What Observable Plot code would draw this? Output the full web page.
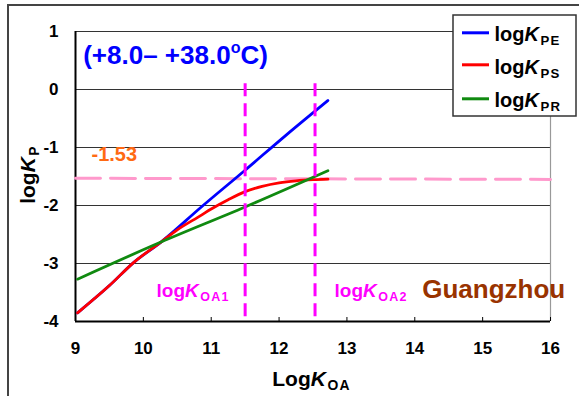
<!DOCTYPE html>
<html>
<head>
<meta charset="utf-8">
<script src="https://cdn.jsdelivr.net/npm/d3@7"></script>
<script src="https://cdn.jsdelivr.net/npm/@observablehq/plot@0.6"></script>
<style>
  html, body { margin: 0; padding: 0; background: #fff; }
  #wrap { position: relative; width: 579px; height: 396px; overflow: hidden; }
  #outer { position: absolute; left: 7px; top: 4px; width: 700px; height: 500px;
           border-left: 2px solid #444; border-top: 2px solid #444; pointer-events: none; }
</style>
</head>
<body>
<div id="wrap"><div id="outer"></div></div>
<script>
// ---- data ----
const xTicks = [9, 10, 11, 12, 13, 14, 15, 16];
const yTicks = [1, 0, -1, -2, -3, -4];
const gridY = [1, 0, -1, -2, -3];
const series = ["PE", "PS", "PR"];
const legendLabels = ["log<i>K</i><sub>PE</sub>", "log<i>K</i><sub>PS</sub>", "log<i>K</i><sub>PR</sub>"];

const xPE = [9.03, 9.5, 9.86, 10.26, 10.85, 11.49, 12.1, 12.72];
const yPE = [-3.85, -3.38, -2.98, -2.63, -2.03, -1.40, -0.79, -0.19];

const xPS = [9.03, 9.5, 9.86, 10.26, 10.5, 10.85, 11.0, 11.25, 11.5, 11.75, 12.0, 12.25, 12.5, 12.72];
const yPS = [-3.85, -3.38, -2.98, -2.63, -2.42, -2.17, -2.06, -1.9, -1.76, -1.67, -1.61, -1.575, -1.555, -1.545];

const xPR = [9.03, 10.26, 11.49, 12.72];
const yPR = [-3.27, -2.63, -2.03, -1.40];

const thresholdLabel = "-1.53";
const pinkX = [9, 16];
const pinkY = [-1.53, -1.55];
const koaX = [11.5, 12.53];
const koaLabels = ["log<i>K</i><sub>OA1</sub>", "log<i>K</i><sub>OA2</sub>"];
const title = "(+8.0– +38.0<sup>o</sup>C)";
const siteLabel = "Guangzhou";
const xLabel = "Log<i>K</i><sub>OA</sub>";
const yLabel = "log<i>K</i><sub>P</sub>";

// ---- tables ----
const rows = [
  ...xPE.map((x, i) => ({series: "PE", x, y: yPE[i]})),
  ...xPS.map((x, i) => ({series: "PS", x, y: yPS[i]})),
  ...xPR.map((x, i) => ({series: "PR", x, y: yPR[i]}))
];
const pink = pinkX.map((x, i) => ({x, y: pinkY[i]}));

// pixel -> data helpers for annotations (frame: x 75..550, y 31..321)
const X = px => 9 + (px - 75) * 7 / 475;
const Y = py => 1 - (py - 31) * 5 / 290;

const font = "'Liberation Sans', Arial, Helvetica, sans-serif";

const chart = Plot.plot({
  width: 579, height: 396,
  marginTop: 31, marginRight: 29, marginBottom: 75, marginLeft: 75,
  x: {domain: [9, 16]},
  y: {domain: [-4, 1]},
  color: {domain: series, range: ["#0000ff", "#ff0000", "#108a10"]},
  style: {fontFamily: font, background: "transparent", overflow: "visible", color: "#000"},
  marks: [
    Plot.ruleY(gridY, {stroke: "#333", strokeWidth: 1.2}),
    Plot.ruleX([16], {stroke: "#999", strokeWidth: 1.2}),
    Plot.ruleX([9], {stroke: "#000", strokeWidth: 2}),
    Plot.ruleY([-4], {stroke: "#000", strokeWidth: 2}),
    Plot.ruleX(xTicks.slice(1), {x: d => d, y1: -4, y2: -4 + 4 * 5 / 290, stroke: "#000", strokeWidth: 1}),
    Plot.axisX({ticks: xTicks, tickSize: 0, tickPadding: 20, tickFormat: d => String(d),
                fontSize: 17, fontWeight: "bold", fill: "#000", label: null}),
    Plot.axisY({ticks: yTicks, tickSize: 0, tickPadding: 17, tickFormat: d => String(d),
                fontSize: 17, fontWeight: "bold", fill: "#000", label: null}),
    Plot.line(pink, {x: "x", y: "y", stroke: "#ff99cc", strokeWidth: 3, strokeDasharray: "25 10"}),
    Plot.line(rows, {x: "x", y: "y", z: "series", stroke: "series", strokeWidth: 2.8, curve: "monotone-x"}),
    Plot.ruleX(koaX, {x: d => d, y1: 0.10, y2: -3.95, stroke: "#ff00ff", strokeWidth: 3, strokeDasharray: "13 7"}),
    // annotations
    Plot.text([title], {x: X(82.7), y: Y(63.5), textAnchor: "start", lineAnchor: "bottom",
                        fill: "#0000ff", fontSize: 26, fontWeight: "bold"}),
    Plot.text([thresholdLabel], {x: X(91), y: Y(160), textAnchor: "start", lineAnchor: "bottom",
                        fill: "#ff6a13", fontSize: 20, fontWeight: "bold"}),
    Plot.text(koaLabels, {x: (d, i) => X([156, 334][i]), y: Y(296.7), textAnchor: "start", lineAnchor: "bottom",
                        fill: "#ff00ff", fontSize: 19, fontWeight: "bold"}),
    Plot.text([siteLabel], {x: X(421.7), y: Y(297), textAnchor: "start", lineAnchor: "bottom",
                        fill: "#993300", fontSize: 26, fontWeight: "bold"}),
    Plot.text([xLabel], {x: X(311), y: Y(385), textAnchor: "middle", lineAnchor: "bottom",
                        fill: "#000", fontSize: 21, fontWeight: "bold"}),
    Plot.text([yLabel], {x: X(34), y: Y(174), rotate: -90, textAnchor: "middle", lineAnchor: "bottom",
                        fill: "#000", fontSize: 21, fontWeight: "bold"}),
    // legend
    Plot.rect([0], {x1: X(453), x2: X(576), y1: Y(15), y2: Y(116), fill: "#fff", stroke: "#333", strokeWidth: 1.5}),
    Plot.ruleY(series, {y: (d, i) => Y([32.3, 64.3, 98.3][i]), x1: X(462), x2: X(489), stroke: d => d, strokeWidth: 3}),
    Plot.text(legendLabels, {x: X(494), y: (d, i) => Y([40.7, 73.3, 106.7][i]), textAnchor: "start", lineAnchor: "bottom",
                        fill: "#000", fontSize: 20, fontWeight: "bold"})
  ]
});

const wrap = document.getElementById("wrap");
chart.style.position = "absolute";
chart.style.left = "0px";
chart.style.top = "0px";
wrap.insertBefore(chart, wrap.firstChild);

// rich text: italics, subscripts, superscripts
const NS = "http://www.w3.org/2000/svg";
chart.querySelectorAll("text").forEach(t => {
  const s = t.textContent;
  if (!s.includes("<")) return;
  const fs = parseFloat(getComputedStyle(t).fontSize);
  while (t.firstChild) t.removeChild(t.firstChild);
  let shift = 0;
  s.split(/(<i>.*?<\/i>|<sub>.*?<\/sub>|<sup>.*?<\/sup>)/).filter(Boolean).forEach(tok => {
    const ts = document.createElementNS(NS, "tspan");
    let txt = tok, target = 0, m;
    if ((m = tok.match(/^<i>(.*)<\/i>$/))) { txt = m[1]; ts.setAttribute("font-style", "italic"); }
    else if ((m = tok.match(/^<sub>(.*)<\/sub>$/))) {
      txt = m[1]; target = 0.2 * fs;
      ts.setAttribute("font-size", (0.66 * fs).toFixed(1));
      ts.setAttribute("letter-spacing", "1.2");
      ts.setAttribute("dx", "1.5");
    }
    else if ((m = tok.match(/^<sup>(.*)<\/sup>$/))) {
      txt = m[1]; target = -0.42 * fs;
      ts.setAttribute("font-size", (0.62 * fs).toFixed(1));
    }
    if (target !== shift) ts.setAttribute("dy", (target - shift).toFixed(2));
    shift = target;
    ts.textContent = txt;
    t.appendChild(ts);
  });
});
</script>
</body>
</html>
